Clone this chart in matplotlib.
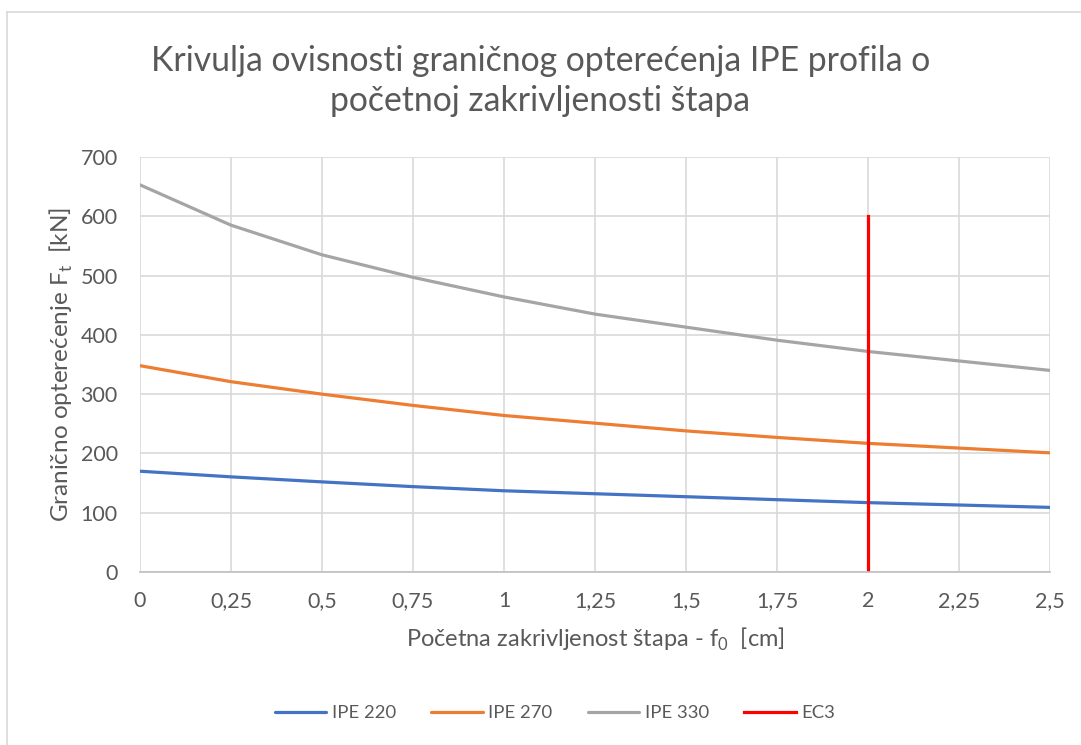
import matplotlib
matplotlib.use('Agg')
import matplotlib.pyplot as plt
from matplotlib.lines import Line2D
from matplotlib.ticker import FuncFormatter

plt.rcParams['font.family'] = ['Lato', 'DejaVu Sans']
plt.rcParams['mathtext.fontset'] = 'custom'
plt.rcParams['mathtext.rm'] = 'Lato'

# data
f0 = [0, 0.25, 0.5, 0.75, 1.0, 1.25, 1.5, 1.75, 2.0, 2.25, 2.5]
ipe220 = [170, 160.5, 152, 144, 137, 132, 127, 122, 117, 113, 109]
ipe270 = [348, 321, 300, 281, 264, 251, 238, 227, 217, 209, 201]
ipe330 = [653, 585, 535, 497, 464, 435, 413, 391, 372, 356, 340]
ec3_x = [2, 2]
ec3_y = [0, 600]

x_ticks = [0, 0.25, 0.5, 0.75, 1, 1.25, 1.5, 1.75, 2, 2.25, 2.5]
y_ticks = [0, 100, 200, 300, 400, 500, 600, 700]

txt = '#595959'
grid_c = '#D9D9D9'

fig = plt.figure(figsize=(10.81, 7.45), dpi=100)
ax = fig.add_axes([140 / 1081, 1 - 572 / 745, 910 / 1081, 415 / 745])

ax.plot(f0, ipe220, color='#4472C4', lw=2.3, label='IPE 220', solid_capstyle='round')
ax.plot(f0, ipe270, color='#ED7D31', lw=2.3, label='IPE 270', solid_capstyle='round')
ax.plot(f0, ipe330, color='#A5A5A5', lw=2.3, label='IPE 330', solid_capstyle='round')
ax.plot(ec3_x, ec3_y, color='#FF0000', lw=2.3, label='EC3')

ax.set_xlim(0, 2.5)
ax.set_ylim(0, 700)
ax.set_xticks(x_ticks)
ax.set_yticks(y_ticks)
ax.xaxis.set_major_formatter(FuncFormatter(lambda v, p: ('%g' % v).replace('.', ',')))
ax.grid(True, color=grid_c, lw=1.2)
ax.set_axisbelow(True)
for s in ['top', 'right', 'left']:
    ax.spines[s].set_visible(False)
ax.spines['bottom'].set_color('#BFBFBF')
ax.spines['bottom'].set_linewidth(1.2)
ax.tick_params(length=0, labelsize=15.5, colors=txt)
ax.tick_params(axis='x', pad=14)
ax.tick_params(axis='y', pad=16)

ax.set_xlabel(r'Početna zakrivljenost štapa - f$_\mathregular{0}$  [cm]', fontsize=17, color=txt, labelpad=10)
ax.set_ylabel(r'Granično opterećenje F$_\mathregular{t}$  [kN]', fontsize=17.5, color=txt, labelpad=4)

fig.text(0.5, 1 - 81 / 745, 'Krivulja ovisnosti graničnog opterećenja IPE profila o\npočetnoj zakrivljenosti štapa',
         ha='center', va='center', fontsize=24.3, color=txt, linespacing=1.32)

handles, labels = ax.get_legend_handles_labels()
fig.legend(handles, labels, loc='center', bbox_to_anchor=(555 / 1081, 1 - 713 / 745), ncol=4, frameon=False,
           fontsize=13.3, handlelength=2.8, columnspacing=1.9, handletextpad=0.3, labelcolor=txt)

# chart border (top and left visible)
fig.add_artist(Line2D([7 / 1081, 1], [1 - 12 / 745, 1 - 12 / 745], color=grid_c, lw=1.2))
fig.add_artist(Line2D([7 / 1081, 7 / 1081], [0, 1 - 12 / 745], color=grid_c, lw=1.2))

fig.savefig('out.png', dpi=100)
